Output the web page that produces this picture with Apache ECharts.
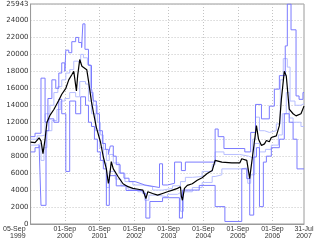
<!DOCTYPE html>
<html><head><meta charset="utf-8">
<script src="https://cdn.jsdelivr.net/npm/echarts@6/dist/echarts.min.js"></script>
<style>html,body{margin:0;padding:0;background:#fff}#c{width:320px;height:240px}</style>
</head><body><div id="c"></div>
<script>
// ---- data ----
const xStart = '1999-09-05';
const xEnd = '2007-07-31';
const xTickDates = ['2000-09-01','2001-09-01','2002-09-01','2003-09-01','2004-09-01','2005-09-01','2006-09-01'];
const yTicks = [0,2000,4000,6000,8000,10000,12000,14000,16000,18000,20000,22000,24000,25943];

const blackDates = ['1999-09-05','1999-10-22','1999-12-04','1999-12-24','2000-01-14','2000-02-05','2000-02-25','2000-03-27','2000-05-08','2000-06-29',
 '2000-07-30','2000-09-11','2000-10-12','2000-11-13','2000-12-04','2001-01-01','2001-01-14','2001-02-05','2001-02-28','2001-03-16',
 '2001-04-20','2001-05-08','2001-06-09','2001-06-29','2001-07-30','2001-09-11','2001-10-12','2001-11-13','2001-12-04','2001-12-14',
 '2002-01-04','2002-01-25','2002-03-16','2002-05-08','2002-06-29','2002-08-20','2002-10-12','2002-12-04','2003-01-04','2003-01-25',
 '2003-03-16','2003-05-08','2003-06-29','2003-08-20','2003-10-12','2003-12-04','2004-01-04','2004-01-14','2004-01-25','2004-02-15',
 '2004-03-16','2004-05-08','2004-06-29','2004-08-20','2004-10-12','2004-12-04','2005-01-04','2005-03-16','2005-06-29','2005-09-21',
 '2005-10-12','2005-12-04','2006-01-04','2006-01-14','2006-02-15','2006-03-16','2006-04-07','2006-05-08','2006-06-09','2006-06-29',
 '2006-07-30','2006-08-20','2006-10-12','2006-11-13','2006-12-04','2007-01-04','2007-01-25','2007-02-25','2007-04-07','2007-05-08',
 '2007-06-29','2007-07-31'];
const blackValues = [9650,9600,10150,9800,8300,10000,12000,12800,13500,14600,
 15300,16000,17000,17600,18000,15700,17500,19400,18600,18400,
 18200,16900,14400,13200,11400,9700,7900,6500,4800,5350,
 7350,6500,5600,4750,4400,4200,4100,4000,3000,3800,
 3600,3400,3600,3800,4000,4200,4400,3250,2800,4200,
 4550,4750,5150,5450,5950,6300,7500,7300,7200,7200,
 7700,7500,5350,6300,9050,11600,10000,9250,9450,9850,
 9700,10200,10400,11600,14700,18000,17450,13550,13000,12750,
 13000,13900];

const maxDates = ['1999-09-05','1999-10-22','1999-12-24','2000-02-05','2000-03-06','2000-04-17','2000-05-28','2000-06-29','2000-07-30','2000-09-01',
 '2000-09-11','2000-10-12','2000-11-13','2000-12-24','2001-01-25','2001-02-25','2001-03-10','2001-04-01','2001-05-08','2001-06-09',
 '2001-06-29','2001-07-30','2001-09-01','2001-10-02','2001-11-03','2001-12-04','2001-12-24','2002-01-25','2002-02-25','2002-04-07',
 '2002-05-18','2002-07-10','2002-09-11','2002-11-03','2002-12-24','2003-02-15','2003-05-28','2003-06-29','2003-08-20','2003-11-03',
 '2004-01-14','2004-02-25','2005-01-04','2005-02-05','2005-04-07','2005-11-13','2006-01-14','2006-03-06','2006-05-08','2006-07-30',
 '2006-09-21','2006-11-13','2007-01-14','2007-02-05','2007-03-16','2007-05-08','2007-06-09','2007-07-20','2007-07-31'];
const maxValues = [10300,10700,17200,12000,14800,17000,16000,17800,19000,18000,
 20500,20200,21500,22000,21400,20800,23600,20600,18700,16000,
 14500,13000,11000,9500,8800,8200,9200,8000,7000,6000,
 5400,5000,4800,4600,4500,4300,7100,4600,4800,7300,
 6300,7300,11200,10300,8900,8500,10800,14100,12400,13900,
 15900,17500,21000,25943,22900,15100,14700,15500,15500];

const minDates = ['1999-09-05','1999-10-22','1999-12-04','1999-12-24','2000-02-15','2000-03-16','2000-05-08','2000-06-29','2000-07-30','2000-09-11',
 '2000-10-22','2000-12-24','2001-02-15','2001-04-07','2001-05-08','2001-06-09','2001-07-10','2001-08-10','2001-09-11','2001-10-12',
 '2001-11-13','2001-12-14','2002-02-25','2002-06-09','2002-12-04','2003-01-04','2003-02-15','2003-06-29','2003-12-24','2004-01-25',
 '2004-07-20','2005-01-04','2005-04-17','2005-10-12','2005-12-04','2006-01-04','2006-02-15','2006-03-16','2006-04-17','2006-05-28',
 '2006-06-29','2006-08-20','2006-11-13','2007-01-04','2007-02-25','2007-04-07','2007-05-18','2007-07-31'];
const minValues = [8500,9000,9300,2200,11000,12400,12000,14700,13000,6200,
 14500,13000,15000,14000,12000,11500,10000,8500,7500,6500,
 2200,5700,4500,3950,3600,700,2650,3100,700,4000,
 4550,2050,300,6500,5350,1050,7900,9000,2050,7300,
 8000,9000,10000,13000,12000,10000,6500,6500];

const highDates = ['1999-09-05','1999-11-13','2000-01-04','2000-02-05','2000-03-27','2000-05-08','2000-06-19','2000-07-30','2000-09-11','2000-10-22',
 '2000-12-04','2001-01-14','2001-02-15','2001-03-16','2001-04-27','2001-05-28','2001-06-29','2001-08-10','2001-09-11','2001-10-12',
 '2001-11-13','2001-12-14','2002-01-25','2002-03-27','2002-05-28','2002-08-20','2002-12-04','2003-03-16','2003-06-29','2003-10-12',
 '2004-01-04','2004-02-25','2004-05-08','2004-08-20','2004-12-04','2005-01-04','2005-04-07','2005-09-21','2005-12-24','2006-02-05',
 '2006-03-06','2006-04-17','2006-06-09','2006-07-30','2006-10-12','2006-11-23','2006-12-24','2007-02-05','2007-03-06','2007-04-27',
 '2007-06-29','2007-07-31'];
const highValues = [10000,10400,10500,13000,14000,15500,16200,17000,17800,18200,
 19200,19000,20000,19600,18800,15500,14000,12000,10500,8800,
 7500,8200,7200,6000,5000,4600,4400,4000,4200,4500,
 5000,5500,5600,6200,7000,8500,8200,8000,7800,10000,
 12600,11000,10800,11000,11800,17000,19500,18500,14500,14000,
 14200,14200];

const lowDates = ['1999-09-05','1999-11-13','1999-12-24','2000-01-25','2000-02-25','2000-04-17','2000-06-09','2000-07-20','2000-09-01','2000-10-22',
 '2000-12-24','2001-02-05','2001-04-07','2001-05-08','2001-06-09','2001-07-20','2001-09-01','2001-10-12','2001-11-13','2001-12-14',
 '2002-02-15','2002-04-17','2002-06-29','2002-10-12','2002-12-24','2003-02-05','2003-05-08','2003-08-20','2003-12-04','2004-01-04',
 '2004-02-05','2004-05-08','2004-08-20','2004-12-04','2005-01-04','2005-03-16','2005-09-21','2005-12-14','2006-01-14','2006-02-25',
 '2006-04-17','2006-06-19','2006-08-20','2006-11-03','2006-12-14','2007-01-25','2007-02-25','2007-04-07','2007-06-29','2007-07-31'];
const lowValues = [9300,9500,7500,9000,11000,12200,13500,14500,14800,15500,
 15000,16800,16500,14500,13000,11000,9000,7200,4300,6200,
 5300,4500,4100,3800,2800,3400,3200,3500,3700,1500,
 3800,4300,4900,5600,5800,6500,6600,4800,5800,9500,
 8500,8800,9300,10500,13000,15500,12500,12000,11500,11500];

// ---- chart ----
const P = s => echarts.time.parse(s).getTime();
const zip = (d, v) => d.map((x, i) => [P(x), v[i]]);
const MON = ['Jan','Feb','Mar','Apr','May','Jun','Jul','Aug','Sep','Oct','Nov','Dec'];
const xMin = P(xStart);
const xLabelVals = [xStart].concat(xTickDates, [xEnd]).map(P);
const xTickVals = xTickDates.map(P);
const pad = n => (n < 10 ? '0' : '') + n;

const chart = echarts.init(document.getElementById('c'), null, {renderer: 'canvas'});
function stepSeries(d, v, color, z) {
  return {type: 'line', step: 'end', data: zip(d, v), symbol: 'none', z: z,
    lineStyle: {color: color, width: 1}, animation: false, silent: true};
}
chart.setOption({
  animation: false,
  grid: {left: 27, right: 16, top: 4, bottom: 14, show: true, borderColor: '#9a9a9a', borderWidth: 1},
  xAxis: {
    type: 'value', min: xMin, max: P(xEnd),
    axisLine: {show: true, lineStyle: {color: '#9a9a9a'}},
    axisTick: {show: false, customValues: xTickVals},
    splitLine: {show: true, customValues: xTickVals, lineStyle: {color: '#c4c4c4', type: [1, 2], width: 1}},
    axisLabel: {
      customValues: xLabelVals, showMinLabel: true, showMaxLabel: true,
      alignMinLabel: 'right',
      margin: 2, fontSize: 7, lineHeight: 7, color: '#333', fontFamily: 'Liberation Sans',
      rich: {m: {fontSize: 7, lineHeight: 7, color: '#333', fontFamily: 'Liberation Sans', padding: [0, 5, 0, 0]}},
      formatter: function (val) {
        const d = new Date(val);
        const a = pad(d.getDate()) + '-' + MON[d.getMonth()];
        const b = String(d.getFullYear());
        if (Math.abs(val - xMin) < 1) return '{m|' + a + '}\n{m|' + b + '}';
        return a + '\n' + b;
      }
    }
  },
  yAxis: {
    type: 'value', min: 0, max: 25943, interval: 2000,
    axisLine: {show: true, lineStyle: {color: '#9a9a9a'}},
    axisTick: {show: false, customValues: yTicks},
    splitLine: {show: true, customValues: yTicks, lineStyle: {color: '#c4c4c4', type: [1, 2], width: 1}},
    axisLabel: {customValues: yTicks, margin: 2, fontSize: 7, color: '#333', fontFamily: 'DejaVu Sans',
      formatter: v => String(Math.round(v))}
  },
  series: [
    stepSeries(highDates, highValues, '#b8bfff', 2),
    stepSeries(lowDates, lowValues, '#b8bfff', 2),
    stepSeries(maxDates, maxValues, '#7b7bff', 3),
    stepSeries(minDates, minValues, '#7b7bff', 3),
    {type: 'line', data: zip(blackDates, blackValues), symbol: 'none', z: 5,
      lineStyle: {color: '#000', width: 1.2}, animation: false, silent: true}
  ]
});
</script></body></html>
